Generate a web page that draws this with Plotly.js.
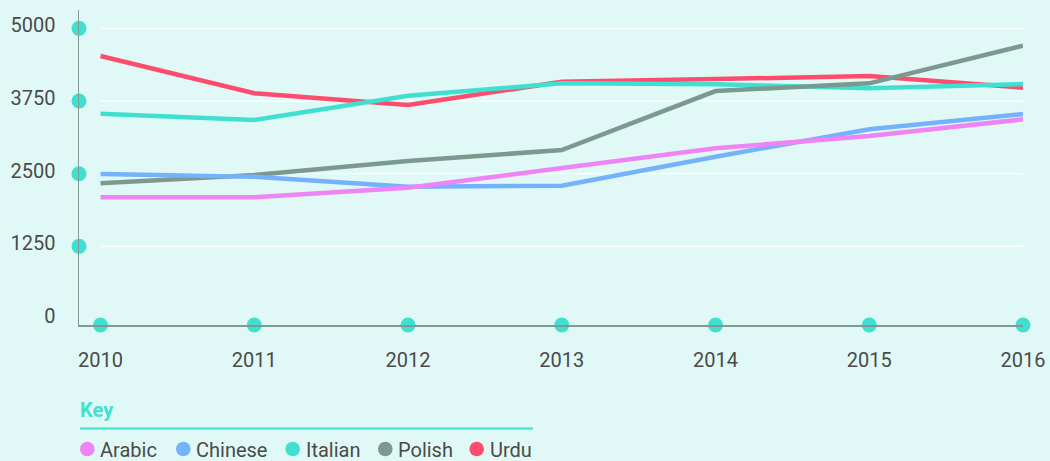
<!DOCTYPE html>
<html>
<head>
<meta charset="utf-8">
<script src="https://cdn.plot.ly/plotly-3.0.1.min.js"></script>
<style>
  html, body { margin: 0; padding: 0; background: #e1f9f6; }
  #chart { width: 1050px; height: 461px; }
</style>
</head>
<body>
<div id="chart"></div>
<script>
// ---- data ----
var years = [2010, 2011, 2012, 2013, 2014, 2015, 2016];
var arabic  = [2094, 2094, 2259, 2592, 2936, 3148, 3435];
var chinese = [2494, 2448, 2276, 2293, 2792, 3263, 3527];
var italian = [3532, 3423, 3842, 4054, 4037, 3969, 4043];
var polish  = [2334, 2477, 2718, 2907, 3922, 4054, 4702];
var urdu    = [4524, 3883, 3681, 4082, 4128, 4180, 3979];
var seriesNames = ["Arabic", "Chinese", "Italian", "Polish", "Urdu"];
var yTickVals = [0, 1250, 2500, 3750, 5000];
var yTickText = ["0", "1250", "2500", "3750", "5000"];
var xTickText = ["2010", "2011", "2012", "2013", "2014", "2015", "2016"];

// ---- styles ----
var colors = {Arabic: "#ee84f5", Chinese: "#74b2fb", Italian: "#40e0d0", Polish: "#7c9990", Urdu: "#fd4d6f"};
var seriesData = {Arabic: arabic, Chinese: chinese, Italian: italian, Polish: polish, Urdu: urdu};
var textColor = "#4a4a4a";
var teal = "#40e0d0";
var bg = "#e1f9f6";
var font = "Roboto, 'Open Sans', sans-serif";
var fs = 20;

var W = 1050, H = 461;
var M = {l: 79, r: 27, t: 10, b: 136};
var xRange = [2009.86, 2016];
var yRange = [-103, 5316];

function px2paperX(px) { return (px - M.l) / (W - M.l - M.r); }
function px2paperY(py) { return (H - M.b - py) / (H - M.t - M.b); }

var traces = [];
// draw order bottom -> top
["Urdu", "Italian", "Polish", "Chinese", "Arabic"].forEach(function (n) {
  traces.push({
    type: "scatter", mode: "lines", name: n, x: years, y: seriesData[n],
    line: {color: colors[n], width: 4.5, shape: "linear"},
    showlegend: false, hoverinfo: "x+y+name"
  });
});

// axis dots
var yDotVals = yTickVals.filter(function (v) { return v > 0; });
traces.push({
  type: "scatter", mode: "markers",
  x: yDotVals.map(function () { return xRange[0]; }), y: yDotVals,
  marker: {color: teal, size: 15}, cliponaxis: false, showlegend: false, hoverinfo: "skip"
});
traces.push({
  type: "scatter", mode: "markers",
  x: years, y: years.map(function () { return yRange[0]; }),
  marker: {color: teal, size: 15}, cliponaxis: false, showlegend: false, hoverinfo: "skip"
});

// gridlines (only between first and last year)
var shapes = yDotVals.map(function (v) {
  return {type: "line", xref: "x", yref: "y", x0: years[0], x1: years[years.length - 1], y0: v, y1: v,
          line: {color: "#ffffff", width: 1.2}, layer: "below"};
});

// custom key
var annotations = [];
annotations.push({
  xref: "paper", yref: "paper", x: px2paperX(78), y: px2paperY(409.5),
  xanchor: "left", yanchor: "middle", showarrow: false,
  text: "<b>Key</b>", font: {family: font, size: fs, color: teal}
});
shapes.push({
  type: "line", xref: "paper", yref: "paper",
  x0: px2paperX(80), x1: px2paperX(533), y0: px2paperY(428.5), y1: px2paperY(428.5),
  line: {color: teal, width: 2}
});
var keyDotX = [87.3, 183.3, 292.7, 385.3, 476.7];
var keyY = 449;
seriesNames.forEach(function (n, i) {
  shapes.push({
    type: "circle", xref: "paper", yref: "paper",
    xsizemode: "pixel", ysizemode: "pixel",
    xanchor: px2paperX(keyDotX[i]), yanchor: px2paperY(keyY),
    x0: -7.3, x1: 7.3, y0: -7.3, y1: 7.3,
    fillcolor: colors[n], line: {width: 0}
  });
  annotations.push({
    xref: "paper", yref: "paper", x: px2paperX(keyDotX[i] + 11), y: px2paperY(keyY + 1),
    xanchor: "left", yanchor: "middle", showarrow: false,
    text: n, font: {family: font, size: fs, color: textColor}
  });
});

var layout = {
  width: W, height: H,
  margin: M,
  paper_bgcolor: bg, plot_bgcolor: bg,
  font: {family: font, size: fs, color: textColor},
  showlegend: false,
  xaxis: {
    range: xRange, showgrid: false, zeroline: false,
    showline: true, linecolor: "#7f9a92", linewidth: 1.5,
    ticks: "", tickvals: years, ticktext: xTickText,
    tickfont: {family: font, size: fs, color: textColor},
    ticklabelstandoff: 16, fixedrange: true
  },
  yaxis: {
    range: yRange, showgrid: false, zeroline: false,
    showline: true, linecolor: "#7f9a92", linewidth: 1.5,
    ticks: "", tickvals: yTickVals, ticktext: yTickText,
    tickfont: {family: font, size: fs, color: textColor},
    ticklabelstandoff: 18, ticklabelshift: -3, fixedrange: true
  },
  shapes: shapes,
  annotations: annotations
};

Plotly.newPlot("chart", traces, layout, {displayModeBar: false, staticPlot: true});
</script>
</body>
</html>
